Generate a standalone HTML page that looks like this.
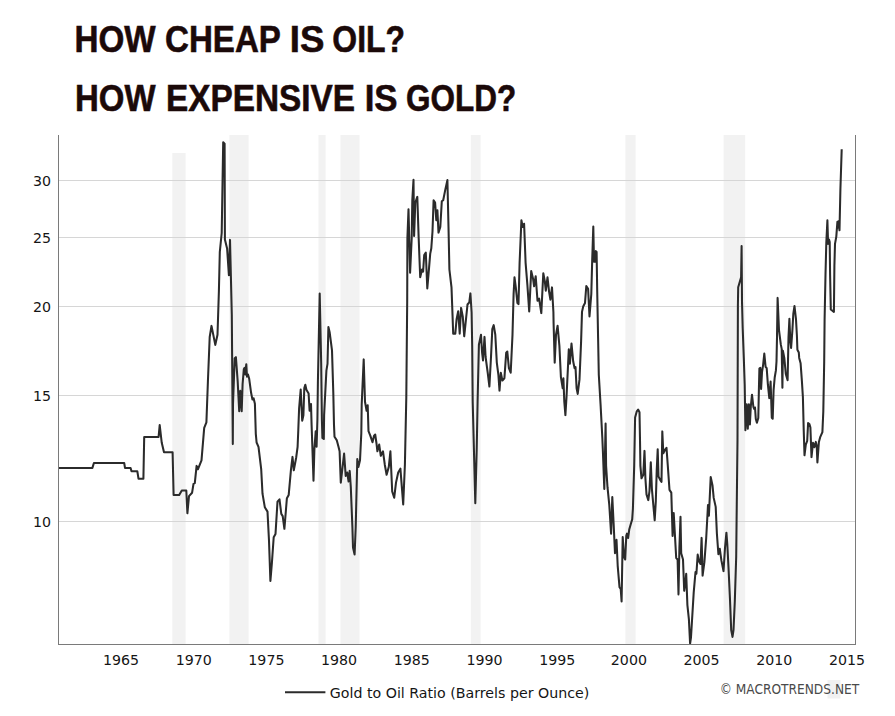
<!DOCTYPE html>
<html lang="en">
<head>
<meta charset="utf-8">
<title>How cheap is oil? How expensive is gold?</title>
<style>
html,body{margin:0;padding:0;background:#ffffff;}
body{width:895px;height:716px;overflow:hidden;font-family:"DejaVu Sans","Liberation Sans",sans-serif;}
svg{display:block;}
.ttl{font-family:"Liberation Sans",sans-serif;font-weight:bold;font-size:37.4px;fill:#1b0909;stroke:#1b0909;stroke-width:0.6px;}
.ax{font-family:"DejaVu Sans","Liberation Sans",sans-serif;font-size:14.2px;fill:#151515;}
.wm{font-family:"DejaVu Sans Condensed","DejaVu Sans","Liberation Sans",sans-serif;font-size:13.2px;fill:#4a4a4a;}
</style>
</head>
<body>
<svg width="895" height="716" viewBox="0 0 895 716">
<rect x="0" y="0" width="895" height="716" fill="#ffffff"/>
<g class="ttl">
<text y="52"><tspan x="74.5" textLength="81.2" lengthAdjust="spacingAndGlyphs">HOW</tspan> <tspan x="165.1" textLength="115.2" lengthAdjust="spacingAndGlyphs">CHEAP</tspan> <tspan x="289.8" textLength="34.6" lengthAdjust="spacingAndGlyphs">IS</tspan> <tspan x="332.3" textLength="72.7" lengthAdjust="spacingAndGlyphs">OIL?</tspan></text>
<text y="110.5"><tspan x="75.0" textLength="80.5" lengthAdjust="spacingAndGlyphs">HOW</tspan> <tspan x="166.0" textLength="188.9" lengthAdjust="spacingAndGlyphs">EXPENSIVE</tspan> <tspan x="364.7" textLength="32.9" lengthAdjust="spacingAndGlyphs">IS</tspan> <tspan x="406.0" textLength="110.2" lengthAdjust="spacingAndGlyphs">GOLD?</tspan></text>
</g>
<g><rect x="172.3" y="153.0" width="13.3" height="491.5" fill="#f2f2f2"/><rect x="229.4" y="135.0" width="19.2" height="509.5" fill="#f2f2f2"/><rect x="318.5" y="135.0" width="7.1" height="509.5" fill="#f2f2f2"/><rect x="340.5" y="135.0" width="19.0" height="509.5" fill="#f2f2f2"/><rect x="470.8" y="135.0" width="9.8" height="509.5" fill="#f2f2f2"/><rect x="625.4" y="135.0" width="10.2" height="509.5" fill="#f2f2f2"/><rect x="723.6" y="135.0" width="21.6" height="509.5" fill="#f2f2f2"/></g>
<g shape-rendering="crispEdges"><line x1="58.5" x2="855.5" y1="180.5" y2="180.5" stroke="#d6d6d6" stroke-width="1"/><line x1="58.5" x2="855.5" y1="237.5" y2="237.5" stroke="#d6d6d6" stroke-width="1"/><line x1="58.5" x2="855.5" y1="306.5" y2="306.5" stroke="#d6d6d6" stroke-width="1"/><line x1="58.5" x2="855.5" y1="395.5" y2="395.5" stroke="#d6d6d6" stroke-width="1"/><line x1="58.5" x2="855.5" y1="521.5" y2="521.5" stroke="#d6d6d6" stroke-width="1"/></g>
<polyline fill="none" stroke="#2b2b2b" stroke-width="2.05" stroke-linejoin="round" stroke-linecap="butt" points="58.5,467.9 92.4,467.9 93.9,463.0 124.2,463.0 125.0,467.9 130.6,467.9 131.5,471.2 137.3,471.2 138.5,478.7 143.4,478.7 144.2,436.9 158.6,436.9 159.7,425.0 161.7,442.5 164.0,452.3 172.6,452.3 173.6,495.0 179.2,495.0 181.8,490.5 186.3,490.5 187.4,513.3 189.0,496.1 192.1,492.7 193.5,483.8 194.8,483.1 196.6,465.9 197.9,469.3 201.5,460.3 204.2,427.9 206.4,422.3 207.9,381.7 209.7,337.0 211.5,325.9 213.5,335.9 215.3,344.9 217.5,334.8 218.9,291.0 219.8,252.0 221.7,233.0 223.2,142.2 224.6,143.6 224.9,239.5 227.1,248.4 228.9,275.3 230.0,239.9 230.9,276.7 231.8,314.7 232.8,444.1 233.0,404.0 234.7,358.3 235.9,357.2 237.7,381.7 239.2,411.2 240.3,390.7 241.7,411.2 242.6,384.0 243.8,369.3 244.5,367.9 245.2,374.4 246.3,364.2 247.0,376.6 247.9,374.4 249.2,378.8 251.1,392.8 252.4,399.4 253.6,398.3 254.9,403.8 255.8,433.8 256.6,442.5 258.5,446.8 261.2,469.2 262.5,493.7 264.8,507.2 267.5,511.6 269.0,540.7 270.4,581.0 271.9,563.0 273.7,537.3 275.5,534.0 277.5,501.6 279.5,499.3 281.3,513.9 282.7,516.1 284.4,528.8 286.9,498.2 288.7,494.9 290.9,470.3 292.5,456.9 293.8,470.3 296.1,458.0 297.6,446.8 298.3,430.0 299.1,408.5 300.7,389.6 302.2,420.8 303.4,415.3 304.3,388.0 305.3,384.7 306.4,389.8 308.6,393.5 309.6,410.8 311.0,404.1 311.6,425.0 312.2,442.3 313.5,480.8 314.4,449.1 315.7,431.2 316.6,446.8 317.4,420.0 317.9,381.7 319.7,293.5 321.2,363.9 321.9,420.0 322.4,437.9 323.8,439.0 324.1,415.3 326.4,370.6 327.5,363.9 328.4,327.0 329.7,332.6 332.0,350.4 333.3,392.9 334.0,425.0 334.5,436.8 336.7,440.1 338.5,446.8 339.6,451.3 340.8,482.6 344.1,453.5 345.7,475.9 347.2,472.5 348.6,481.5 349.7,470.9 350.8,487.0 352.4,527.3 353.0,547.4 354.6,554.5 355.7,527.3 357.3,459.1 358.4,466.9 360.0,460.2 361.3,433.4 361.7,404.1 363.7,359.4 365.0,401.8 366.6,410.8 367.7,405.2 368.5,431.2 370.3,435.6 372.5,442.3 374.1,435.6 375.2,434.5 376.5,443.5 377.4,451.3 379.2,444.6 380.8,455.8 383.0,451.3 384.8,464.7 386.6,474.7 388.8,466.9 390.4,451.3 392.2,491.5 394.2,497.8 396.0,482.6 398.2,472.5 400.4,468.7 403.2,504.4 404.9,464.7 406.3,397.3 407.2,301.2 407.4,238.2 408.5,209.2 410.1,272.8 411.7,238.2 412.3,200.2 413.5,179.7 414.1,236.0 415.3,202.5 417.3,196.9 418.6,236.0 420.2,277.3 422.0,269.5 423.1,271.7 424.2,255.0 425.8,252.7 427.3,288.5 429.1,267.3 430.2,253.9 431.3,248.3 432.5,231.5 433.6,200.2 435.1,202.5 436.3,220.3 437.4,210.3 438.5,232.6 440.3,227.0 441.8,201.3 443.2,200.2 445.4,189.1 447.4,180.1 448.5,227.0 449.4,269.5 451.5,287.4 452.1,303.4 453.2,333.6 455.3,333.6 456.6,319.1 458.2,311.2 459.7,333.6 461.1,307.9 462.8,316.8 464.2,336.3 466.0,319.1 467.5,304.5 469.3,302.3 470.4,293.4 471.6,312.3 472.2,345.9 472.7,401.7 475.3,503.3 476.7,450.0 477.6,401.7 478.9,344.7 481.0,334.7 482.1,352.6 483.0,360.4 484.5,336.9 485.6,357.0 487.7,372.7 489.4,386.5 491.0,357.0 492.3,329.1 493.7,325.1 495.3,334.7 496.8,362.6 498.4,374.9 499.5,390.6 500.8,372.7 502.4,380.5 504.4,378.3 506.2,352.6 507.3,351.5 508.9,368.2 510.7,372.7 512.5,334.7 513.6,294.1 514.5,277.3 515.8,287.4 517.4,303.0 518.5,304.1 519.6,262.8 521.4,220.3 522.7,227.0 524.1,223.7 525.6,262.8 527.4,285.1 529.2,311.5 531.2,271.1 533.0,278.4 534.1,286.3 535.7,276.2 537.5,300.8 539.1,298.5 541.3,313.1 543.3,273.3 544.9,281.8 545.8,290.7 547.5,277.3 549.1,291.8 550.4,299.7 552.0,287.4 553.4,312.0 553.6,323.5 554.7,362.6 556.0,334.7 557.6,325.8 559.4,345.9 560.9,377.2 562.7,388.3 563.4,378.3 564.3,401.7 565.4,415.1 566.5,397.3 567.9,368.2 568.8,349.2 569.9,363.7 571.5,343.6 573.2,361.5 574.6,368.2 575.5,367.1 576.6,388.3 577.7,393.9 579.5,379.4 581.1,341.4 582.0,311.9 583.2,306.5 585.0,303.0 586.3,286.0 588.1,288.7 589.5,316.4 591.3,294.0 592.2,260.1 593.3,226.6 594.0,261.8 595.0,261.8 595.8,251.1 596.6,252.0 597.2,290.4 598.1,338.0 598.8,374.7 600.6,405.1 602.3,437.3 602.9,451.5 604.3,489.0 605.6,423.5 606.1,465.8 607.5,487.2 609.3,505.1 611.1,533.7 612.3,497.0 613.6,523.0 615.0,553.2 616.5,539.8 617.7,565.8 619.5,587.2 620.7,589.0 621.6,601.5 622.7,537.0 624.0,556.8 625.2,559.5 626.3,535.5 627.0,533.6 628.1,538.0 629.3,529.2 631.1,523.0 632.2,519.4 632.9,508.7 634.2,465.8 635.1,417.6 636.8,411.3 638.1,409.5 639.5,412.2 640.0,440.0 640.4,465.8 641.5,478.3 643.3,474.7 644.5,450.9 645.4,478.3 646.5,494.4 648.3,500.1 649.5,490.8 650.8,462.2 651.9,489.0 653.5,506.9 654.7,520.3 655.8,501.5 656.7,471.1 657.7,449.3 658.5,476.5 660.3,480.1 661.5,481.8 662.3,431.4 663.3,453.2 665.1,449.7 666.5,447.9 667.8,465.8 669.5,489.9 671.3,492.6 672.6,535.9 673.7,513.1 676.2,558.0 677.6,559.5 678.5,594.4 679.4,547.9 680.5,516.7 681.2,553.2 683.0,559.5 684.2,590.8 685.3,583.6 686.2,573.8 687.4,605.1 688.9,619.4 690.1,643.5 691.0,637.3 692.3,615.8 693.7,592.6 695.5,572.0 696.4,573.8 697.7,554.6 699.0,561.3 700.5,564.0 701.6,537.9 702.6,575.6 704.4,562.2 706.2,538.0 708.0,505.1 708.9,515.8 710.7,477.0 712.5,485.4 713.7,497.9 715.7,506.9 716.9,533.7 718.4,554.2 719.8,548.8 721.4,560.4 723.5,571.1 725.0,547.9 726.4,532.7 727.3,544.3 728.5,567.5 730.0,599.7 731.2,630.1 732.5,636.9 733.5,630.1 734.8,601.5 736.2,556.8 736.6,519.4 737.5,440.0 737.9,305.1 738.2,287.2 741.1,277.4 741.6,246.1 742.0,301.5 742.7,328.3 743.8,357.9 744.7,384.7 745.4,430.2 746.7,404.2 747.8,428.7 748.9,404.2 749.9,424.5 750.8,406.5 752.0,394.7 753.4,407.0 754.3,409.0 755.0,407.5 755.8,419.0 756.9,422.7 758.3,418.0 758.9,388.9 759.4,368.6 760.3,367.9 761.1,389.0 762.0,372.1 763.1,365.1 764.3,353.5 765.6,366.8 766.7,368.2 767.9,384.7 769.3,398.1 770.6,381.5 771.8,417.8 772.7,418.7 773.6,390.1 774.7,377.5 775.9,370.4 776.5,361.5 777.0,337.3 777.6,297.9 779.0,330.1 780.8,344.4 781.7,348.9 782.4,387.7 782.9,350.7 784.3,357.9 785.8,374.0 787.6,380.2 788.5,337.3 789.4,318.8 790.3,340.8 791.1,348.0 792.4,330.1 793.3,314.0 794.5,306.0 796.0,319.4 796.9,335.5 797.4,349.8 798.8,352.5 799.2,357.9 800.6,363.2 801.9,381.1 802.9,397.2 803.7,429.4 804.5,455.3 805.8,444.6 807.2,441.0 808.1,423.1 809.4,424.0 810.4,427.6 811.5,457.1 813.0,442.8 814.4,447.3 815.8,441.9 816.7,445.5 817.4,462.5 818.9,441.9 820.1,437.4 822.4,432.1 823.3,411.5 824.2,361.5 824.6,319.4 825.5,274.7 826.3,243.0 827.4,220.3 828.1,243.9 829.0,239.4 829.7,242.1 830.1,274.7 830.8,309.5 833.9,311.9 834.4,265.8 835.0,243.9 836.3,236.6 837.4,221.8 838.1,227.6 838.6,221.2 839.5,230.3 840.4,189.4 841.7,149.2"/>
<g shape-rendering="crispEdges" stroke="#7a7a7a" stroke-width="1" fill="none">
<line x1="58.5" y1="135.0" x2="58.5" y2="644.5"/>
<line x1="855.5" y1="135.0" x2="855.5" y2="644.5"/>
<line x1="58.0" y1="644.5" x2="856.0" y2="644.5"/>
</g>
<g class="ax"><text x="51" y="186.2" text-anchor="end">30</text><text x="51" y="243.2" text-anchor="end">25</text><text x="51" y="312.2" text-anchor="end">20</text><text x="51" y="401.2" text-anchor="end">15</text><text x="51" y="527.2" text-anchor="end">10</text><text x="121.0" y="665" text-anchor="middle">1965</text><text x="193.7" y="665" text-anchor="middle">1970</text><text x="266.4" y="665" text-anchor="middle">1975</text><text x="339.1" y="665" text-anchor="middle">1980</text><text x="411.8" y="665" text-anchor="middle">1985</text><text x="484.5" y="665" text-anchor="middle">1990</text><text x="557.2" y="665" text-anchor="middle">1995</text><text x="628.9" y="665" text-anchor="middle">2000</text><text x="701.6" y="665" text-anchor="middle">2005</text><text x="774.3" y="665" text-anchor="middle">2010</text><text x="847.0" y="665" text-anchor="middle">2015</text></g>
<rect x="827.5" y="680" width="13" height="18.5" fill="#f1f1f1"/>
<line x1="285" y1="692.2" x2="325.4" y2="692.2" stroke="#2b2b2b" stroke-width="1.9"/>
<text class="ax" x="329.8" y="698" textLength="259.5" lengthAdjust="spacingAndGlyphs">Gold to Oil Ratio (Barrels per Ounce)</text>
<text class="wm" x="719.7" y="693.6" textLength="139.5" lengthAdjust="spacingAndGlyphs">© MACROTRENDS.NET</text>
</svg>
</body>
</html>
